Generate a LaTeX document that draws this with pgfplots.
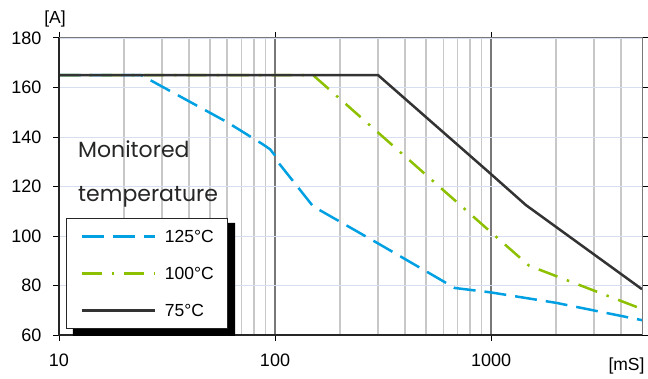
\documentclass[border=0pt]{standalone}
\usepackage{pgfplots}
\pgfplotsset{compat=1.18}
\usepackage{fontspec}
\setmainfont{Liberation Sans}
\newfontfamily\gothic{Poppins}
\definecolor{cblue}{RGB}{0,160,226}
\definecolor{cgreen}{RGB}{140,192,0}
\definecolor{cblack}{RGB}{51,51,51}
\definecolor{ygrid}{RGB}{214,222,240}
\definecolor{minorg}{RGB}{200,200,200}
\definecolor{majorg}{RGB}{120,120,120}
\begin{document}
\begin{tikzpicture}
\begin{axis}[
  scale only axis, width=583pt, height=297pt,
  clip=false,
  xmode=log, log basis x=10,
  xmin=10, xmax=5000, ymin=60, ymax=180,
  xtick={10,100,1000}, xticklabels={10,100,1000},
  minor xtick={20,30,40,50,60,70,80,90,200,300,400,500,600,700,800,900,2000,3000,4000},
  ytick={60,80,100,120,140,160,180},
  xmajorgrids, xminorgrids, ymajorgrids,
  major x grid style={majorg, line width=1.2pt},
  minor x grid style={minorg, line width=1.2pt},
  major y grid style={ygrid, line width=0.8pt},
  axis line style={draw=none},
  tick align=outside, major tick length=6pt, minor tick length=0pt,
  tick style={black, line width=1pt},
  ticklabel style={font=\fontsize{18}{20}\selectfont},
  xticklabel style={yshift=-9pt},
  yticklabel style={xshift=-8pt},
  /pgf/number format/assume math mode=true,
  legend style={at={(axis description cs:0.012,0.394)}, anchor=north west,
    name=leg,
    draw=black!85, line width=0.8pt, fill=white,
    inner xsep=14pt, inner ysep=11.5pt, row sep=24pt, column sep=9pt,
    nodes={inner sep=0pt, text height=13pt, text depth=0pt, font=\fontsize{17.5}{20}\selectfont}},
  legend cell align=left,
  legend image code/.code={\draw[#1] (0pt,0pt) -- (73pt,0pt);},
]
\addplot[cblue, line width=2.5pt, dash pattern=on 22pt off 9pt] coordinates {
  (10,165) (24,165) (60,146) (88,137) (95,135) (100,132.5) (104,129.5) (150,112) (300,97) (680,79) (1000,77.2) (2000,73) (5000,66)};
\addlegendentry{125°C}
\addplot[cgreen, line width=2.5pt, dash pattern=on 20pt off 10pt on 2.5pt off 10pt] coordinates {
  (10,165) (150,165) (1000,101.5) (1500,88) (5000,70.5)};
\addlegendentry{100°C}
\addplot[cblack, line width=2.5pt] coordinates {
  (10,165) (300,165) (1000,125) (1450,112.5) (5000,78.5)};
\addlegendentry{75°C}
\draw[majorg, line width=1pt] (rel axis cs:0,1) -- (rel axis cs:1,1) -- (rel axis cs:1,0);
\draw[black!85, line width=1.6pt] (rel axis cs:0,1) -- (rel axis cs:0,0) -- (rel axis cs:1,0);
\node[anchor=base west, font=\gothic\fontsize{22}{24}\selectfont, text=black!85, inner sep=0pt]
  at ([shift={(19pt,-119pt)}]rel axis cs:0,1) {Monitored};
\node[anchor=base west, font=\gothic\fontsize{22}{24}\selectfont, text=black!85, inner sep=0pt]
  at ([shift={(19pt,-163pt)}]rel axis cs:0,1) {temperature};
\node[anchor=base, inner sep=0pt, font=\fontsize{17.5}{20}\selectfont] at ([shift={(-4pt,14pt)}]rel axis cs:0,1) {[A]};
\node[anchor=base, inner sep=0pt, font=\fontsize{17.5}{20}\selectfont] at ([shift={(-15.5pt,-35pt)}]rel axis cs:1,0) {[mS]};
\coordinate (ll) at (rel axis cs:0,0);
\coordinate (ur) at (rel axis cs:1,1);
\end{axis}
\fill[black] ([shift={(0pt,-5pt)}]leg.north east) -- ([shift={(7pt,-5pt)}]leg.north east)
  -- ([shift={(7pt,-7pt)}]leg.south east) -- ([shift={(7pt,-7pt)}]leg.south west)
  -- ([shift={(7pt,0pt)}]leg.south west) -- (leg.south east) -- cycle;
\pgfresetboundingbox
\path ([shift={(-59pt,-43pt)}]ll) rectangle ([shift={(6pt,38pt)}]ur);
\end{tikzpicture}
\end{document}
